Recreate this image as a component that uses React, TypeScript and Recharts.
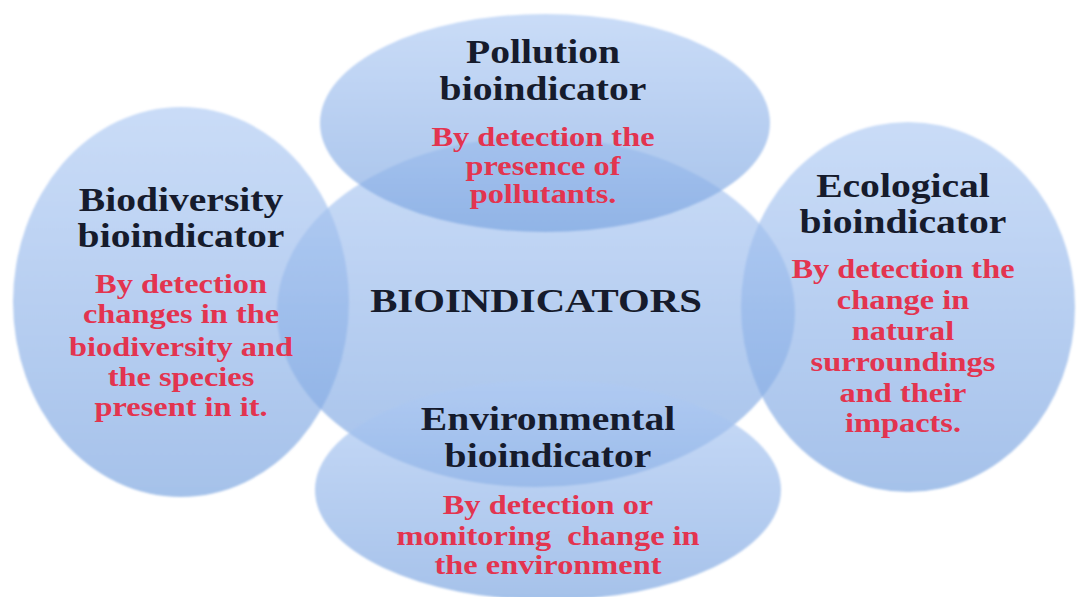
import { Scatter, ScatterChart, XAxis, YAxis } from 'recharts'

const WIDTH = 1084
const HEIGHT = 597

// bubbles, in picture units (0..1084 across, 0..597 down)
const bubbleNames = ['Centre', 'Pollution', 'Biodiversity', 'Ecological', 'Environmental']
const bubbleX = [536, 545, 181, 908, 548]
const bubbleY = [312, 123, 302, 307, 490]
const bubbleRx = [259, 225, 168, 167, 233]
const bubbleRy = [175, 109, 195, 185, 110]

// text blocks
const centreTitle = 'BIOINDICATORS'
const blockTitles = [
  ['Pollution', 'bioindicator'],
  ['Biodiversity', 'bioindicator'],
  ['Ecological', 'bioindicator'],
  ['Environmental', 'bioindicator'],
]
const blockNotes = [
  ['By detection the', 'presence of', 'pollutants.'],
  ['By detection', 'changes in the', 'biodiversity and', 'the species', 'present in it.'],
  ['By detection the', 'change in', 'natural', 'surroundings', 'and their', 'impacts.'],
  ['By detection or', 'monitoring  change in', 'the environment'],
]
const blockX = [543, 181, 903, 548]
const titleBaselines = [
  [63, 100],
  [211, 247],
  [197, 233],
  [430, 467],
]
const noteBaselines = [
  [146, 175, 203],
  [293, 323, 356, 386, 416],
  [278, 309, 340, 371, 402, 432],
  [514, 545, 574],
]

const bubbles = bubbleNames.map((name, i) => ({
  name,
  x: bubbleX[i],
  y: bubbleY[i],
  rx: bubbleRx[i],
  ry: bubbleRy[i],
}))

type Line = { x: number; y: number; text: string; kind: 'title' | 'note' | 'main' }

const lines: Line[] = [{ x: 536, y: 312, text: centreTitle, kind: 'main' }]
blockTitles.forEach((titles, i) => {
  titles.forEach((t, j) => lines.push({ x: blockX[i], y: titleBaselines[i][j], text: t, kind: 'title' }))
  blockNotes[i].forEach((t, j) => lines.push({ x: blockX[i], y: noteBaselines[i][j], text: t, kind: 'note' }))
})

const FONT = '"Liberation Serif", "Times New Roman", serif'
const SX = 1 // plot units per pixel, domain matches the pixel size

function BubbleShape(props: any) {
  const { cx, cy, payload } = props
  return (
    <ellipse
      cx={cx}
      cy={cy}
      rx={payload.rx * SX}
      ry={payload.ry * SX}
      fill="url(#bubbleFill)"
      filter="url(#soft)"
    />
  )
}

function LineShape(props: any) {
  const { cx, cy, payload } = props
  const style =
    payload.kind === 'note'
      ? { size: 27, fill: '#e3344f', weight: 700 }
      : payload.kind === 'main'
        ? { size: 34, fill: '#161b2c', weight: 700 }
        : { size: 33, fill: '#161b2c', weight: 700 }
  return (
    <text
      transform={`translate(${cx},${cy}) scale(1.2,1)`}
      textAnchor="middle"
      fontFamily={FONT}
      fontSize={style.size}
      fontWeight={style.weight}
      fill={style.fill}
      style={{ whiteSpace: 'pre' }}
    >
      {payload.text}
    </text>
  )
}

export default function App() {
  return (
    <div style={{ position: 'absolute', left: 0, top: 0, background: '#fff' }}>
      <ScatterChart width={WIDTH} height={HEIGHT} margin={{ top: 0, right: 0, bottom: 0, left: 0 }}>
        <defs>
          <linearGradient id="bubbleFill" x1="0" y1="0" x2="0" y2="1">
            <stop offset="0%" stopColor="#b0cbf4" stopOpacity={0.67} />
            <stop offset="100%" stopColor="#7aa4e0" stopOpacity={0.67} />
          </linearGradient>
          <filter id="soft" x="-5%" y="-5%" width="110%" height="110%">
            <feGaussianBlur stdDeviation="0.8" />
          </filter>
        </defs>
        <XAxis type="number" dataKey="x" domain={[0, WIDTH]} hide />
        <YAxis type="number" dataKey="y" domain={[0, HEIGHT]} reversed hide />
        <Scatter data={bubbles} shape={BubbleShape} isAnimationActive={false} />
        <Scatter data={lines} shape={LineShape} isAnimationActive={false} />
      </ScatterChart>
    </div>
  )
}
